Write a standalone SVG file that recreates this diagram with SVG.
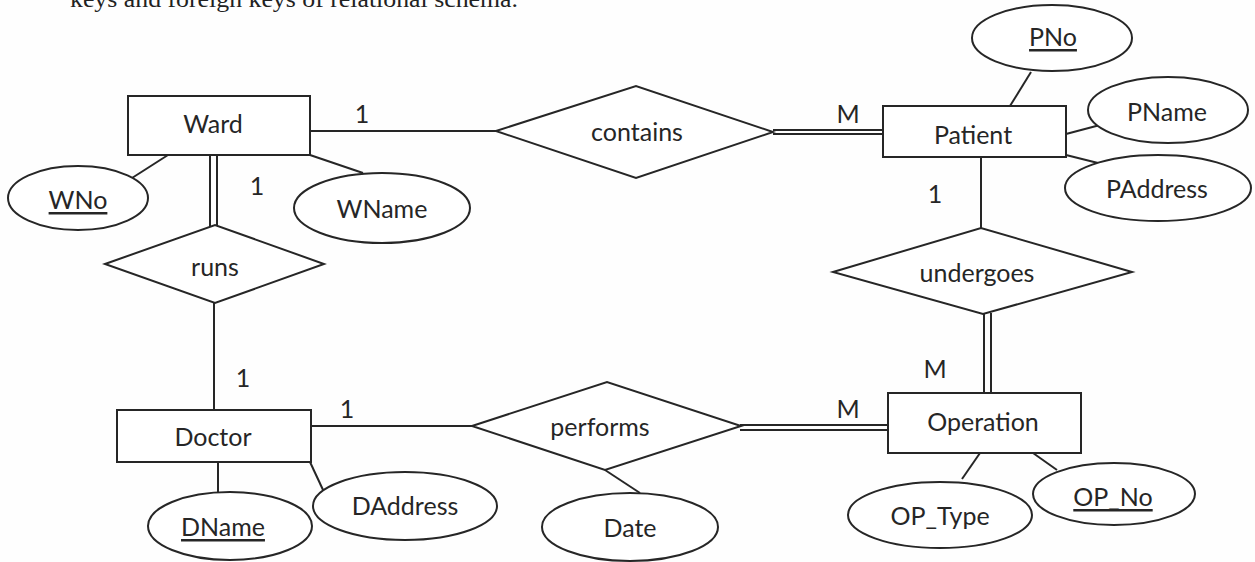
<svg xmlns="http://www.w3.org/2000/svg" width="1255" height="562" viewBox="0 0 1255 562">
<style>
.s{fill:#fff;stroke:#262626;stroke-width:2}
.c{stroke:#262626;stroke-width:2;fill:none}
.t{font-family:Lato,"Open Sans",sans-serif;font-size:25px;fill:#262626;text-anchor:middle;dominant-baseline:central}
.u{text-decoration:underline}
.h{font-family:"Liberation Serif",serif;font-size:24px;fill:#222}
</style>
<rect width="1255" height="562" fill="#fefefe"/>
<text class="h" x="70" y="7" textLength="448" lengthAdjust="spacingAndGlyphs">keys and foreign keys of relational schema.</text>
<g id="connectors">
<line class="c" x1="310" y1="131" x2="496" y2="131"/>
<line class="c" x1="773" y1="130" x2="883" y2="130"/>
<line class="c" x1="773" y1="134" x2="883" y2="134"/>
<line class="c" x1="210" y1="155" x2="210" y2="226"/>
<line class="c" x1="217" y1="155" x2="217" y2="226"/>
<line class="c" x1="214" y1="303" x2="214" y2="410"/>
<line class="c" x1="311" y1="426" x2="472" y2="426"/>
<line class="c" x1="740" y1="425" x2="888" y2="425"/>
<line class="c" x1="740" y1="430" x2="888" y2="430"/>
<line class="c" x1="981" y1="157" x2="981" y2="228"/>
<line class="c" x1="984" y1="313" x2="984" y2="393"/>
<line class="c" x1="991" y1="313" x2="991" y2="393"/>
<line class="c" x1="168" y1="155" x2="132" y2="178"/>
<line class="c" x1="310" y1="155" x2="363" y2="173"/>
<line class="c" x1="1010" y1="106" x2="1031" y2="72"/>
<line class="c" x1="1066" y1="134" x2="1100" y2="125"/>
<line class="c" x1="1066" y1="155" x2="1098" y2="163"/>
<line class="c" x1="218" y1="462" x2="218" y2="492"/>
<line class="c" x1="310" y1="462" x2="324" y2="492"/>
<line class="c" x1="605" y1="470" x2="640" y2="493"/>
<line class="c" x1="980" y1="453" x2="962" y2="479"/>
<line class="c" x1="1033" y1="453" x2="1057" y2="470"/>
</g>
<g id="labels">
<text class="t" x="362" y="113">1</text>
<text class="t" x="848" y="113">M</text>
<text class="t" x="257" y="185">1</text>
<text class="t" x="935" y="193">1</text>
<text class="t" x="243" y="377">1</text>
<text class="t" x="347" y="408">1</text>
<text class="t" x="848" y="408">M</text>
<text class="t" x="935" y="368">M</text>
</g>
<g id="ward"><rect class="s" x="128" y="96" width="182" height="59"/><text class="t" x="213" y="123">Ward</text></g>
<g id="patient"><rect class="s" x="883" y="106" width="183" height="51"/><text class="t" x="973" y="134">Patient</text></g>
<g id="doctor"><rect class="s" x="117" y="410" width="194" height="52"/><text class="t" x="213" y="436">Doctor</text></g>
<g id="operation"><rect class="s" x="888" y="393" width="193" height="60"/><text class="t" x="983" y="421">Operation</text></g>
<g id="contains"><polygon class="s" points="496,131 636,86 773,132 636,178"/><text class="t" x="637" y="131">contains</text></g>
<g id="runs"><polygon class="s" points="105,264 215,225 324,264 215,303"/><text class="t" x="215" y="266">runs</text></g>
<g id="undergoes"><polygon class="s" points="833,272 981,228 1132,272 983,314"/><text class="t" x="977" y="272">undergoes</text></g>
<g id="performs"><polygon class="s" points="472,426 607,382 741,426 605,470"/><text class="t" x="600" y="426">performs</text></g>
<g id="wno"><ellipse class="s" cx="78" cy="198" rx="70" ry="32"/><text class="t u" x="78" y="199">WNo</text></g>
<g id="wname"><ellipse class="s" cx="382" cy="208" rx="88" ry="35"/><text class="t" x="382" y="208">WName</text></g>
<g id="pno"><ellipse class="s" cx="1052" cy="38" rx="80" ry="33"/><text class="t u" x="1053" y="36">PNo</text></g>
<g id="pname"><ellipse class="s" cx="1168" cy="110" rx="80" ry="33"/><text class="t" x="1167" y="111">PName</text></g>
<g id="paddress"><ellipse class="s" cx="1158" cy="188" rx="93" ry="33"/><text class="t" x="1157" y="188">PAddress</text></g>
<g id="dname"><ellipse class="s" cx="230" cy="526" rx="82" ry="34"/><text class="t u" x="223" y="526">DName</text></g>
<g id="daddress"><ellipse class="s" cx="405" cy="506" rx="92" ry="34"/><text class="t" x="405" y="505">DAddress</text></g>
<g id="date"><ellipse class="s" cx="630" cy="527" rx="88" ry="34"/><text class="t" x="630" y="527">Date</text></g>
<g id="optype"><ellipse class="s" cx="940" cy="515" rx="92" ry="33"/><text class="t" x="940" y="515">OP_Type</text></g>
<g id="opno"><ellipse class="s" cx="1114" cy="494" rx="81" ry="31"/><text class="t u" x="1113" y="496">OP_No</text></g>
</svg>
